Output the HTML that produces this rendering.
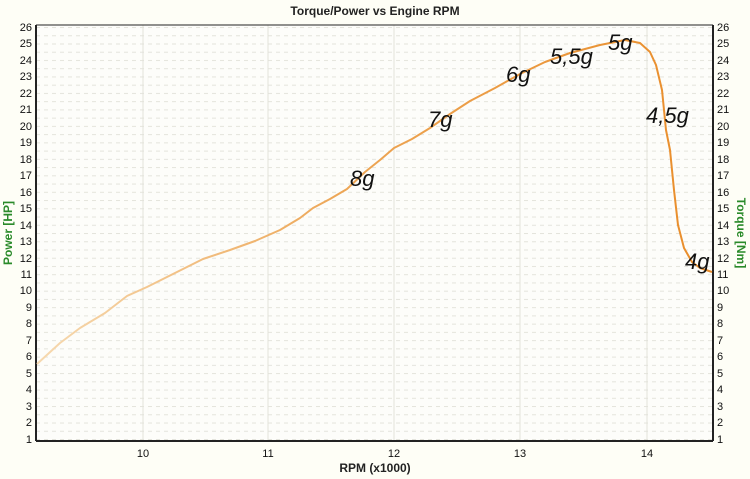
<!DOCTYPE html>
<html><head><style>
body{margin:0;background:#fefef6;}
svg{display:block;font-family:"Liberation Sans",Arial,sans-serif;}
</style></head><body>
<svg width="750" height="479" viewBox="0 0 750 479">
<defs>
<pattern id="dots" width="8" height="8.24" patternUnits="userSpaceOnUse" x="36" y="27">
<rect width="8" height="8.24" fill="#fdfdfa"/>
<rect x="0" y="0" width="4" height="1" fill="#e4e4dc"/>
</pattern>
<linearGradient id="g" x1="0" x2="1" y1="0" y2="0">
<stop offset="0" stop-color="#f6d9b0"/>
<stop offset="0.45" stop-color="#eda656"/>
<stop offset="1" stop-color="#e98d2a"/>
</linearGradient>
</defs>
<text x="375" y="15" text-anchor="middle" font-size="12" font-weight="bold" fill="#222">Torque/Power vs Engine RPM</text>
<rect x="36" y="25" width="677" height="416" fill="url(#dots)"/>
<g stroke="#e2e2da" stroke-width="1">
<line x1="143" y1="25" x2="143" y2="441"/><line x1="268" y1="25" x2="268" y2="441"/>
<line x1="394" y1="25" x2="394" y2="441"/><line x1="520" y1="25" x2="520" y2="441"/>
<line x1="647" y1="25" x2="647" y2="441"/>
</g>
<g stroke="#222" stroke-width="2" fill="none">
<line x1="36" y1="25" x2="36" y2="441"/>
<line x1="713" y1="25" x2="713" y2="441"/>
<line x1="36" y1="441" x2="713" y2="441"/>
<line x1="36" y1="25" x2="713" y2="25" stroke-width="1"/>
</g>
<g font-size="11" fill="#111">
<g text-anchor="end">
<text x="32" y="31">26</text><text x="32" y="47">25</text><text x="32" y="64">24</text><text x="32" y="80">23</text><text x="32" y="97">22</text><text x="32" y="113">21</text><text x="32" y="130">20</text><text x="32" y="146">19</text><text x="32" y="163">18</text><text x="32" y="179">17</text><text x="32" y="196">16</text><text x="32" y="212">15</text><text x="32" y="229">14</text><text x="32" y="245">13</text><text x="32" y="262">12</text><text x="32" y="278">11</text><text x="32" y="294">10</text><text x="32" y="311">9</text><text x="32" y="327">8</text><text x="32" y="344">7</text><text x="32" y="360">6</text><text x="32" y="377">5</text><text x="32" y="393">4</text><text x="32" y="410">3</text><text x="32" y="426">2</text><text x="32" y="443">1</text>
</g>
<g text-anchor="start">
<text x="717" y="31">26</text><text x="717" y="47">25</text><text x="717" y="64">24</text><text x="717" y="80">23</text><text x="717" y="97">22</text><text x="717" y="113">21</text><text x="717" y="130">20</text><text x="717" y="146">19</text><text x="717" y="163">18</text><text x="717" y="179">17</text><text x="717" y="196">16</text><text x="717" y="212">15</text><text x="717" y="229">14</text><text x="717" y="245">13</text><text x="717" y="262">12</text><text x="717" y="278">11</text><text x="717" y="294">10</text><text x="717" y="311">9</text><text x="717" y="327">8</text><text x="717" y="344">7</text><text x="717" y="360">6</text><text x="717" y="377">5</text><text x="717" y="393">4</text><text x="717" y="410">3</text><text x="717" y="426">2</text><text x="717" y="443">1</text>
</g>
<g text-anchor="middle">
<text x="143" y="457">10</text><text x="268" y="457">11</text><text x="394" y="457">12</text><text x="520" y="457">13</text><text x="647" y="457">14</text>
</g>
</g>
<text x="375" y="472" text-anchor="middle" font-size="12" font-weight="bold" fill="#222">RPM (x1000)</text>
<text transform="translate(12,233) rotate(-90)" text-anchor="middle" font-size="12" font-weight="bold" fill="#2a8a2a">Power [HP]</text>
<text transform="translate(737,233) rotate(90)" text-anchor="middle" font-size="12" font-weight="bold" fill="#2a8a2a">Torque [Nm]</text>
<path d="M37,364 L60,343 L80,328 L105,313 L127,296 L147,287 L175,273 L203,259 L230,250 L255,241 L280,230 L300,218 L313,208 L330,199 L347,189 L365,172 L380,160 L394,148 L412,139 L430,128 L450,114 L470,101 L495,88 L520,74 L545,62 L570,53 L600,45 L625,40 L640,43 L650,52 L656,65 L662,90 L666,130 L670,150 L674,190 L678,225 L684,248 L692,262 L700,268 L712,272" fill="none" stroke="url(#g)" stroke-width="2" stroke-linejoin="round"/>
<g font-size="22" font-style="italic" fill="#111">
<text x="350" y="186">8g</text>
<text x="428" y="127">7g</text>
<text x="506" y="82">6g</text>
<text x="550" y="64">5,5g</text>
<text x="608" y="50">5g</text>
<text x="646" y="123">4,5g</text>
<text x="685" y="269">4g</text>
</g>
</svg>
</body></html>
